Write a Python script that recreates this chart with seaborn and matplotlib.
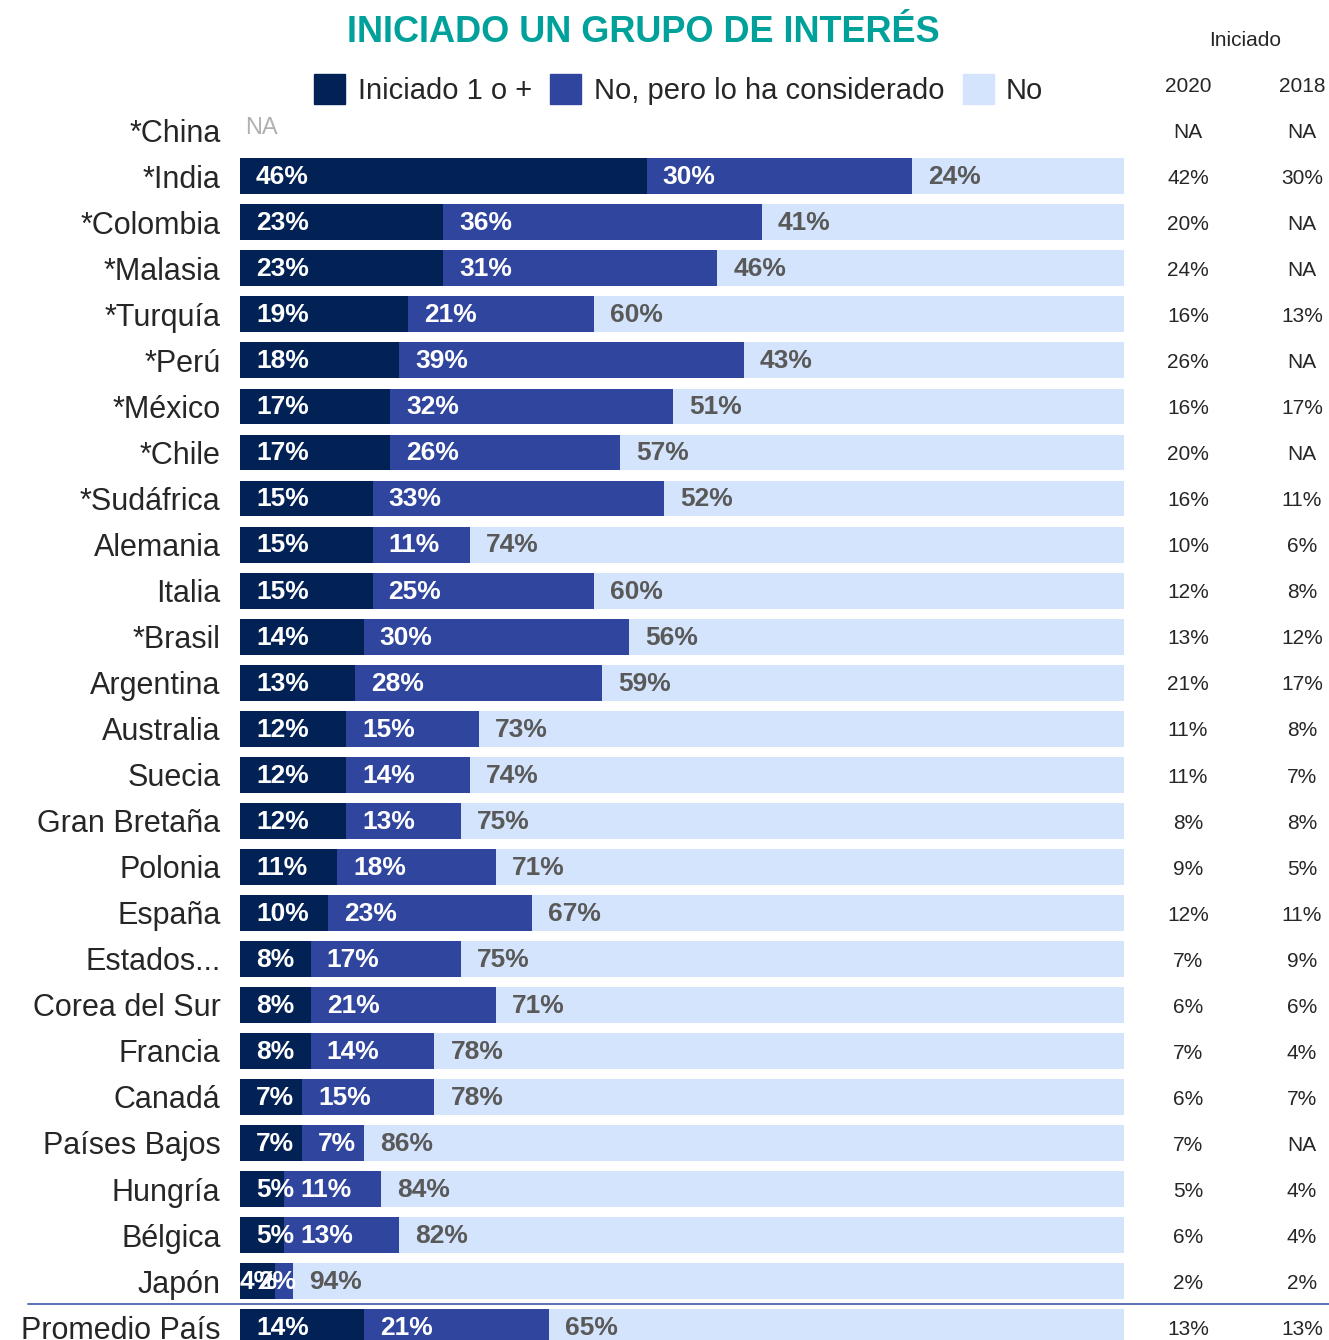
import numpy as np
import pandas as pd
import matplotlib
matplotlib.use('Agg')
import matplotlib.pyplot as plt
from matplotlib.patches import Rectangle
import seaborn as sns

paises = ['*China', '*India', '*Colombia', '*Malasia', '*Turquía', '*Perú', '*México',
          '*Chile', '*Sudáfrica', 'Alemania', 'Italia', '*Brasil', 'Argentina',
          'Australia', 'Suecia', 'Gran Bretaña', 'Polonia', 'España', 'Estados...',
          'Corea del Sur', 'Francia', 'Canadá', 'Países Bajos', 'Hungría', 'Bélgica',
          'Japón', 'Promedio País']
iniciado = [np.nan, 46, 23, 23, 19, 18, 17, 17, 15, 15, 15, 14, 13, 12, 12, 12, 11, 10,
            8, 8, 8, 7, 7, 5, 5, 4, 14]
considerado = [np.nan, 30, 36, 31, 21, 39, 32, 26, 33, 11, 25, 30, 28, 15, 14, 13, 18, 23,
               17, 21, 14, 15, 7, 11, 13, 2, 21]
no_ = [np.nan, 24, 41, 46, 60, 43, 51, 57, 52, 74, 60, 56, 59, 73, 74, 75, 71, 67,
       75, 71, 78, 78, 86, 84, 82, 94, 65]
iniciado_2020 = ['NA', '42%', '20%', '24%', '16%', '26%', '16%', '20%', '16%', '10%', '12%',
                 '13%', '21%', '11%', '11%', '8%', '9%', '12%', '7%', '6%', '7%', '6%',
                 '7%', '5%', '6%', '2%', '13%']
iniciado_2018 = ['NA', '30%', 'NA', 'NA', '13%', 'NA', '17%', 'NA', '11%', '6%', '8%',
                 '12%', '17%', '8%', '7%', '8%', '5%', '11%', '9%', '6%', '4%', '7%',
                 'NA', '4%', '4%', '2%', '13%']
series = ['Iniciado 1 o +', 'No, pero lo ha considerado', 'No']

C_DARK = '#022255'
C_MED = '#30469e'
C_LIGHT = '#d4e4fc'
C_GREY = '#595959'
C_TITLE = '#00a19a'

W, H = 1329, 1340

sns.set_style('white')
plt.rcParams['font.family'] = ['Liberation Sans', 'DejaVu Sans']

df = pd.DataFrame({'pais': paises, 'ini': iniciado, 'cons': considerado, 'no': no_})
df['c1'] = df['ini']
df['c2'] = df['ini'] + df['cons']
df['c3'] = df['c2'] + df['no']

fig = plt.figure(figsize=(W / 100, H / 100), dpi=100)
ax = fig.add_axes([240 / W, 0, 884 / W, 1])

# barras apiladas: se dibuja primero el total y encima los acumulados
for col, color in [('c3', C_LIGHT), ('c2', C_MED), ('c1', C_DARK)]:
    sns.barplot(data=df, x=col, y='pais', order=paises, orient='h', color=color,
                saturation=1, width=0.78, linewidth=0, errorbar=None, ax=ax)

ax.set_xlim(0, 100)
ax.set_ylim(26.28, -2.83)
ax.set_xlabel('')
ax.set_ylabel('')
ax.set_xticks([])
sns.despine(ax=ax, left=True, bottom=True)
ax.tick_params(axis='y', length=0, pad=14, labelsize=22)

# etiquetas de valores
off = 16 / 884 * 100
for i, row in df.iterrows():
    if np.isnan(row['ini']):
        ax.text(off * 0.35, i - 0.05, 'NA', color='#b0b0b0', fontsize=17, va='center', ha='left')
        continue
    starts = [0, row['c1'], row['c2']]
    vals = [row['ini'], row['cons'], row['no']]
    colors = ['white', 'white', C_GREY]
    for s, v, c in zip(starts, vals, colors):
        x = s + off
        if v < 5:
            x = min(s + off, s + v - 4.0)
        ax.text(x, i + 0.02, f'{int(v)}%', color=c, fontsize=19, fontweight='bold',
                va='center', ha='left')

# columnas de la derecha
tr = ax.get_yaxis_transform()
x20 = (1188 - 240) / 884
x18 = (1302 - 240) / 884
for i in range(len(paises)):
    ax.text(x20, i + 0.05, iniciado_2020[i], transform=tr, ha='center', va='center',
            fontsize=15, clip_on=False)
    ax.text(x18, i + 0.05, iniciado_2018[i], transform=tr, ha='center', va='center',
            fontsize=15, clip_on=False)

# linea separadora antes del promedio
ax.plot([(28 - 240) / 884, (1329 - 240) / 884], [25.5, 25.5], transform=tr,
        color='#5065b0', lw=1.3, clip_on=False)

# titulo y cabeceras
fig.text(643 / W, 1 - 33 / H, 'INICIADO UN GRUPO DE INTERÉS', color=C_TITLE,
         fontsize=26, fontweight='bold', ha='center', va='center')
fig.text(1245 / W, 1 - 41 / H, 'Iniciado', fontsize=15, ha='center', va='center')
fig.text(1188 / W, 1 - 86 / H, '2020', fontsize=15, ha='center', va='center')
fig.text(1302 / W, 1 - 86 / H, '2018', fontsize=15, ha='center', va='center')

# leyenda
for sx, tx, color, lab in [(314, 358, C_DARK, series[0]),
                           (550, 594, C_MED, series[1]),
                           (963, 1006, C_LIGHT, series[2])]:
    fig.patches.append(Rectangle((sx / W, 1 - 104 / H), 31 / W, 30 / H,
                                 transform=fig.transFigure, color=color))
    fig.text(tx / W, 1 - 91 / H, lab, fontsize=21, ha='left', va='center')

fig.savefig('out.png', dpi=100)
